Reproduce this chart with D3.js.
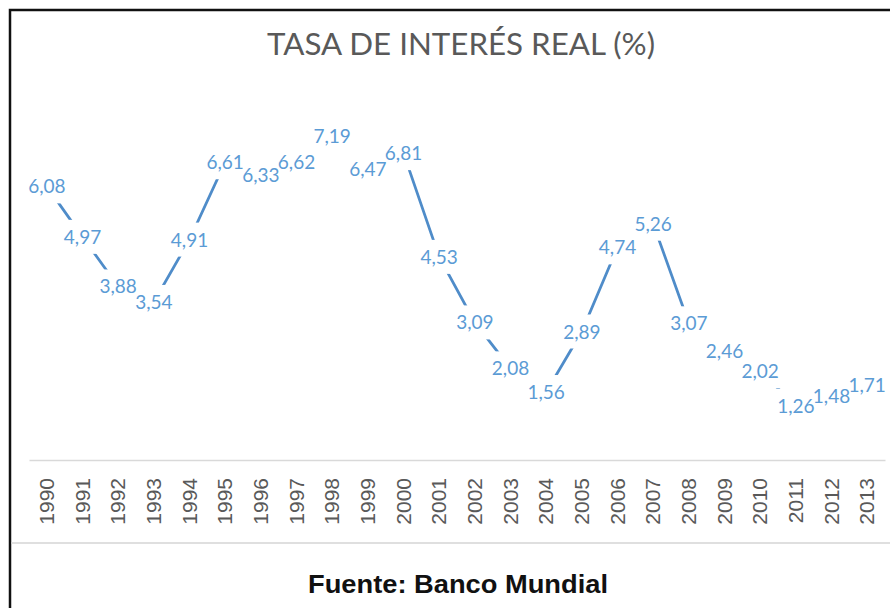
<!DOCTYPE html>
<html>
<head>
<meta charset="utf-8">
<script src="https://cdn.jsdelivr.net/npm/d3@7"></script>
<style>
  body { margin: 0; background: #fff; }
</style>
</head>
<body>
<div id="line_chart"></div>
<script>
const years = ["1990","1991","1992","1993","1994","1995","1996","1997","1998","1999","2000","2001",
               "2002","2003","2004","2005","2006","2007","2008","2009","2010","2011","2012","2013"];
const tasa = [6.08, 4.97, 3.88, 3.54, 4.91, 6.61, 6.33, 6.62, 7.19, 6.47, 6.81, 4.53,
              3.09, 2.08, 1.56, 2.89, 4.74, 5.26, 3.07, 2.46, 2.02, 1.26, 1.48, 1.71];
const title = "TASA DE INTERÉS REAL (%)";
const fuente = "Fuente: Banco Mundial";

const width = 890, height = 608;

const svg = d3.select("#line_chart").append("svg")
    .attr("width", width)
    .attr("height", height);

const dataset = years.map((y, i) => ({year: y, value: tasa[i]}));

const xScale = d3.scaleBand()
    .domain(years)
    .range([29, 885]);

const yScale = d3.scaleLinear()
    .domain([0, 8])
    .range([463, 99]);

const fmt = v => d3.format(".2f")(v).replace(".", ",");
const cx = d => xScale(d.year) + xScale.bandwidth() / 2;

// frame
svg.append("path")
    .attr("d", "M10,608 V10 H890")
    .attr("fill", "none")
    .attr("stroke", "#111")
    .attr("stroke-width", 2.5);

// title
svg.append("text")
    .attr("x", 461)
    .attr("y", 55)
    .attr("text-anchor", "middle")
    .attr("font-family", "Lato, 'Open Sans', sans-serif")
    .attr("font-size", 31)
    .attr("fill", "#595959")
    .attr("textLength", 388)
    .attr("lengthAdjust", "spacingAndGlyphs")
    .text(title);

// x axis
const xAxis = d3.axisBottom(xScale).tickSize(0).tickPadding(0);
const gx = svg.append("g")
    .attr("transform", "translate(0, 460)")
    .call(xAxis);
gx.select(".domain").attr("stroke", "#d9d9d9").attr("stroke-width", 1.3);
gx.selectAll(".tick text")
    .attr("font-family", "Arial, 'Liberation Sans', sans-serif")
    .attr("font-size", 21)
    .attr("fill", "#595959")
    .attr("text-anchor", "end")
    .attr("transform", "translate(7, 18) rotate(-90)")
    .attr("dy", 0)
    .attr("x", 0)
    .attr("y", 0);

// line
svg.append("path")
    .datum(dataset)
    .attr("fill", "none")
    .attr("stroke", "#4f8cc9")
    .attr("stroke-width", 2.75)
    .attr("d", d3.line()
        .x(d => cx(d))
        .y(d => yScale(d.value)));

// label backgrounds (hide the line under each label)
svg.append("g").selectAll("rect")
    .data(dataset)
    .join("rect")
    .attr("x", d => cx(d) - 27)
    .attr("y", d => yScale(d.value) - 17)
    .attr("width", 54)
    .attr("height", 34)
    .attr("fill", "#fff");

// data labels
svg.append("g").selectAll("text")
    .data(dataset)
    .join("text")
    .attr("x", d => cx(d))
    .attr("y", d => yScale(d.value) + 7)
    .attr("text-anchor", "middle")
    .attr("font-family", "Lato, 'Open Sans', sans-serif")
    .attr("font-size", 19)
    .attr("fill", "#5b9bd5")
    .text(d => fmt(d.value));

// separator
svg.append("line")
    .attr("x1", 11).attr("x2", 890)
    .attr("y1", 543).attr("y2", 543)
    .attr("stroke", "#d4d4d4")
    .attr("stroke-width", 1.5);

// source
svg.append("text")
    .attr("x", 458)
    .attr("y", 593)
    .attr("text-anchor", "middle")
    .attr("font-family", "Arial, 'Liberation Sans', sans-serif")
    .attr("font-weight", "bold")
    .attr("font-size", 25)
    .attr("fill", "#111")
    .attr("textLength", 300)
    .attr("lengthAdjust", "spacingAndGlyphs")
    .text(fuente);
</script>
</body>
</html>
